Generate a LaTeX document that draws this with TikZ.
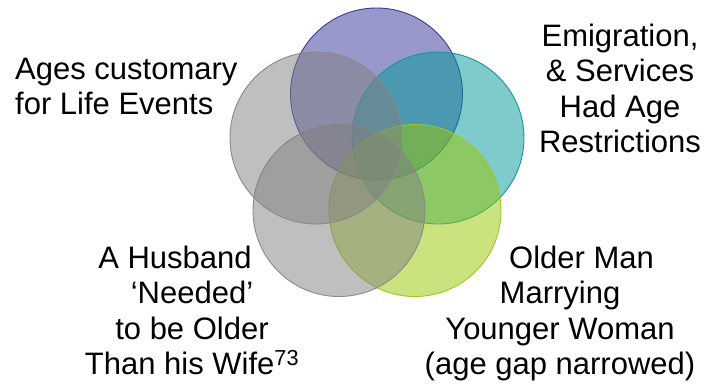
\documentclass[tikz,border=0pt]{standalone}
\usepackage{fontspec}
\setmainfont{Liberation Sans}
\begin{document}
\begin{tikzpicture}[x=1pt,y=-1pt,
  venn/.style={circle,minimum size=172pt,inner sep=0pt,line width=0.9pt,fill opacity=0.5,draw opacity=1},
  lbl/.style={font=\fontsize{31}{35.5}\selectfont,inner sep=0pt,text=black}]
\definecolor{cPurple}{HTML}{333399}
\definecolor{cPurpleD}{HTML}{3B3B96}
\definecolor{cTeal}{HTML}{009999}
\definecolor{cTealD}{HTML}{1A9696}
\definecolor{cGreen}{HTML}{99C800}
\definecolor{cGreenD}{HTML}{9CC81E}
\definecolor{cGray}{HTML}{808080}
\definecolor{cGrayD}{HTML}{8A8A8A}
\useasboundingbox[fill=white] (0,0) rectangle (705,389);
\node[venn,fill=cPurple,draw=cPurpleD] (purple) at (376.5,94) {};
\node[venn,fill=cTeal,draw=cTealD] (teal) at (438,138) {};
\node[venn,fill=cGreen,draw=cGreenD] (green) at (415,210.5) {};
\node[venn,fill=cGray,draw=cGrayD] (grayL) at (339,210.5) {};
\node[venn,fill=cGray,draw=cGrayD] (grayU) at (316,138) {};
\node[lbl,anchor=north west,align=left] (tAges) at (15,57.5) {Ages customary\\for Life Events};
\node[lbl,anchor=north,align=center] (tEmig) at (620,23.5) {Emigration,\\\& Services\\Had Age\\Restrictions};
\node[lbl,anchor=north,align=center] (tHusb) at (192,245.5) {A Husband\hspace*{34pt}\\‘Needed’\\to be Older\\Than his Wife\textsuperscript{73}};
\node[lbl,anchor=north,align=center] (tOlder) at (560,245.5) {\hspace*{43pt}Older Man\\Marrying\\Younger Woman\\(age gap narrowed)};
\end{tikzpicture}
\end{document}
